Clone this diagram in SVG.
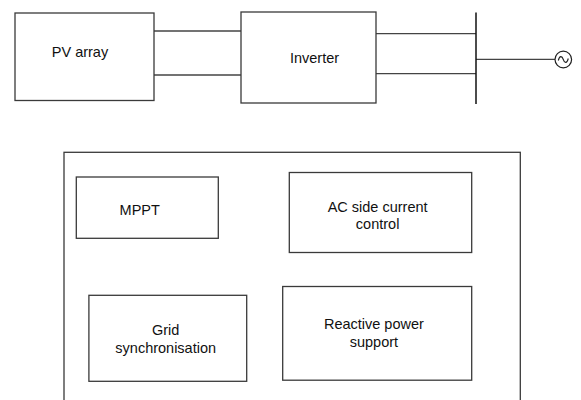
<svg xmlns="http://www.w3.org/2000/svg" width="581" height="400" viewBox="0 0 581 400">
<style>
.box{fill:#fff;stroke:#3a3a3a;stroke-width:1.3}
.ln{stroke:#444;stroke-width:1.3;fill:none}
text{font-family:"Liberation Sans",Arial,sans-serif;font-size:14.5px;fill:#111;text-anchor:middle}
</style>
<rect width="581" height="400" fill="#fff"/>
<g id="connectors">
<line class="ln" x1="154" y1="31" x2="241" y2="31"/>
<line class="ln" x1="154" y1="75" x2="245" y2="75"/>
<line class="ln" x1="376" y1="33.7" x2="476" y2="33.7"/>
<line class="ln" x1="376" y1="73.7" x2="476" y2="73.7"/>
<line class="ln" x1="476" y1="59.3" x2="555" y2="59.3"/>
<line x1="476" y1="12.5" x2="476" y2="104" stroke="#111" stroke-width="1.5"/>
</g>
<g id="pv">
<rect class="box" x="15" y="13" width="139" height="87.5"/>
<text x="80" y="57">PV array</text>
</g>
<g id="inverter">
<rect class="box" x="241" y="12" width="135" height="91"/>
<text x="314.5" y="63">Inverter</text>
</g>
<g id="source">
<circle cx="563.3" cy="59.5" r="8.3" fill="#fff" stroke="#222" stroke-width="1.2"/>
<path d="M558.3 60.5 C559.5 55.5 562 55.5 563.3 59.5 C564.6 63.5 567 63.5 568.3 58.5" fill="none" stroke="#222" stroke-width="1.1"/>
</g>
<g id="controller">
<rect class="box" x="64" y="152.3" width="456.3" height="260"/>
</g>
<g id="mppt">
<rect class="box" x="76.3" y="177" width="142" height="61.3"/>
<text x="139.7" y="215">MPPT</text>
</g>
<g id="ac-control">
<rect class="box" x="289.3" y="172.5" width="182.4" height="80"/>
<text x="377.6" y="211.8">AC side current</text>
<text x="377.6" y="229">control</text>
</g>
<g id="grid-sync">
<rect class="box" x="88.9" y="295.3" width="157.8" height="86"/>
<text x="165.7" y="335.3">Grid</text>
<text x="165.7" y="352.8">synchronisation</text>
</g>
<g id="reactive">
<rect class="box" x="282.7" y="286.5" width="189" height="93.7"/>
<text x="373.9" y="329.3">Reactive power</text>
<text x="373.9" y="346.8">support</text>
</g>
</svg>
